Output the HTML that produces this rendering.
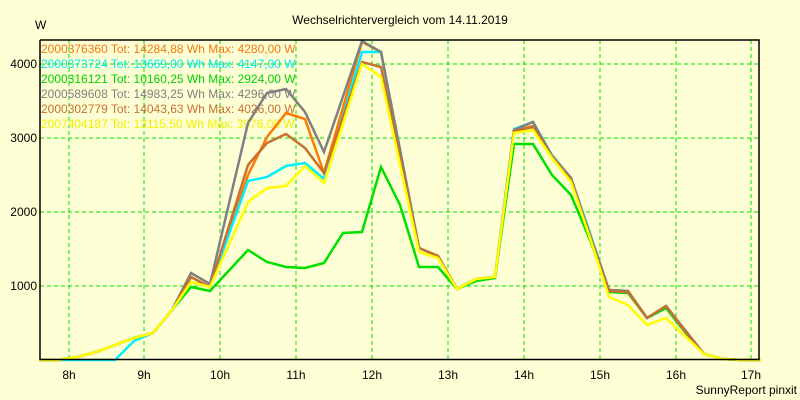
<!DOCTYPE html>
<html><head><meta charset="utf-8"><style>
body{margin:0;background:#ffffd5;}
svg{display:block;font-family:"Liberation Sans",sans-serif;font-size:12px;}
</style></head><body>
<svg width="800" height="400" viewBox="0 0 800 400">
<rect width="800" height="400" fill="#ffffd5"/>
<text x="400" y="24" text-anchor="middle" fill="#000">Wechselrichtervergleich vom 14.11.2019</text>
<text x="35" y="29" fill="#000">W</text>
<g stroke="#00e000" stroke-dasharray="4,3" stroke-width="1">
<line x1="40" y1="286" x2="759" y2="286"/><line x1="40" y1="212" x2="759" y2="212"/>
<line x1="40" y1="138" x2="759" y2="138"/><line x1="40" y1="64" x2="759" y2="64"/>
<line x1="69" y1="40" x2="69" y2="359"/><line x1="144" y1="40" x2="144" y2="359"/>
<line x1="220" y1="40" x2="220" y2="359"/><line x1="296" y1="40" x2="296" y2="359"/>
<line x1="372" y1="40" x2="372" y2="359"/><line x1="448" y1="40" x2="448" y2="359"/>
<line x1="524" y1="40" x2="524" y2="359"/><line x1="600" y1="40" x2="600" y2="359"/>
<line x1="676" y1="40" x2="676" y2="359"/><line x1="751" y1="40" x2="751" y2="359"/>
</g>
<g fill="#000" text-anchor="end">
<text x="37" y="290">1000</text><text x="37" y="216">2000</text><text x="37" y="142">3000</text><text x="37" y="68">4000</text>
</g>
<g fill="#000" text-anchor="middle">
<text x="69" y="379">8h</text><text x="144" y="379">9h</text><text x="220" y="379">10h</text><text x="296" y="379">11h</text><text x="372" y="379">12h</text><text x="448" y="379">13h</text><text x="524" y="379">14h</text><text x="600" y="379">15h</text><text x="676" y="379">16h</text><text x="751" y="379">17h</text>
</g>
<text x="797" y="394" text-anchor="end" fill="#000">SunnyReport pinxit</text>
<g font-size="12">
<text x="41" y="53" fill="#f07810">2000376360 Tot: 14284,88 Wh Max: 4280,00 W</text>
<text x="41" y="68" fill="#00e8f0">2000373724 Tot: 13669,00 Wh Max: 4147,00 W</text>
<text x="41" y="83" fill="#00d000">2000316121 Tot: 10160,25 Wh Max: 2924,00 W</text>
<text x="41" y="98" fill="#808080">2000589608 Tot: 14983,25 Wh Max: 4296,00 W</text>
<text x="41" y="113" fill="#c87030">2000302779 Tot: 14043,63 Wh Max: 4026,00 W</text>
<text x="41" y="128" fill="#f0f000">2007404187 Tot: 13115,50 Wh Max: 3976,00 W</text>
</g>
<g fill="none" stroke-width="2.5" stroke-linejoin="miter">
<polyline stroke="#ff7a00" points="39,360 58,360 77,357 96,352 115,345 134,338 153,333 172,310 191,277 210,287 248,175 267,137 286,113 305,119 324,173 362,42 381,52 419,248 438,256 457,289 476,279 495,277 514,131 533,126 552,156 571,178 590,235 609,290 628,291 647,318 666,306 685,330 704,354 723,359 742,360 761,360"/>
<polyline stroke="#00f0ff" points="39,360 115,360 134,341 153,333 172,310 191,282 210,287 248,181 267,177 286,166 305,163 324,179 362,52 381,52 419,248 438,256 457,289 476,279 495,277 514,129 533,122 552,155 571,178 590,233 609,290 628,292 647,318 666,308 685,332 704,354 723,359 742,360 761,360"/>
<polyline stroke="#00e000" points="39,360 58,360 77,357 96,352 115,345 134,338 153,333 172,310 191,287 210,291 248,250 267,262 286,267 305,268 324,263 343,233 362,232 381,167 400,205 419,267 438,267 457,289 476,281 495,278 514,144 533,144 552,175 571,195 590,240 609,292 628,293 647,318 666,308 685,332 704,354 723,359 742,360 761,360"/>
<polyline stroke="#808080" points="39,360 58,360 77,357 96,352 115,345 134,338 153,333 172,310 191,273 210,284 248,123 267,93 286,89 305,112 324,152 362,41 381,52 419,248 438,256 457,289 476,279 495,277 514,130 533,122 552,156 571,178 590,235 609,290 628,291 647,318 666,306 685,330 704,354 723,359 742,360 761,360"/>
<polyline stroke="#c87030" points="39,360 58,360 77,357 96,352 115,345 134,338 153,333 172,310 191,277 210,287 248,165 267,143 286,134 305,148 324,173 362,62 381,67 419,248 438,256 457,289 476,279 495,277 514,131 533,127 552,156 571,180 590,236 609,291 628,292 647,318 666,306 685,331 704,354 723,359 742,360 761,360"/>
<polyline stroke="#ffff00" points="39,360 58,360 77,357 96,352 115,345 134,338 153,333 172,310 191,282 210,287 248,202 267,188 286,186 305,166 324,183 362,64 381,77 419,252 438,258 457,289 476,279 495,277 514,133 533,130 552,158 571,182 590,238 609,297 628,305 647,325 666,318 685,336 704,354 723,359 742,360 761,360"/>
</g>
<polyline fill="none" stroke="#000" stroke-width="1.5" points="40,40 40,359.5 759,359.5 759,40 40,40"/>
</svg>
</body></html>
